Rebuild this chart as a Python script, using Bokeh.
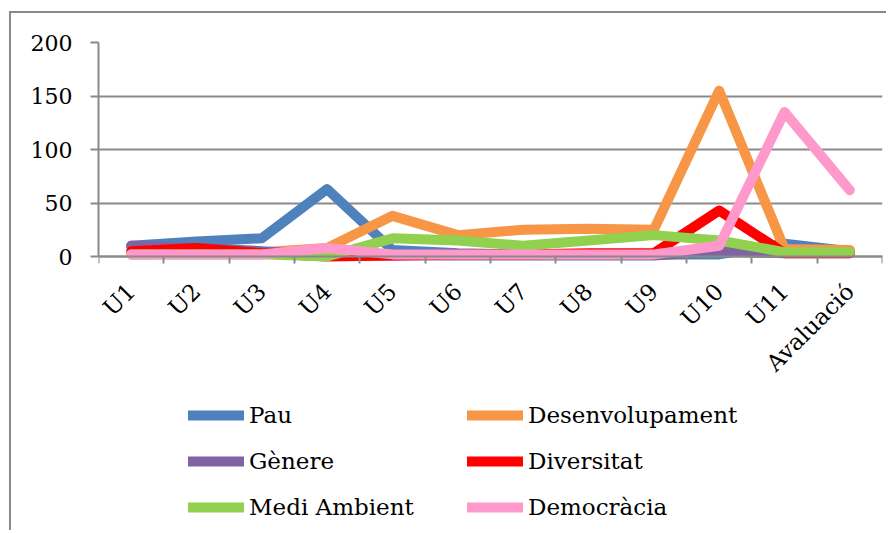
import math
from bokeh.plotting import figure
from bokeh.models import Range1d, FixedTicker, Legend, LegendItem
from bokeh.embed import file_html
from bokeh.resources import INLINE

categories = ["U1", "U2", "U3", "U4", "U5", "U6", "U7", "U8", "U9", "U10", "U11", "Avaluació"]
series_names = ["Pau", "Desenvolupament", "Gènere", "Diversitat", "Medi Ambient", "Democràcia"]
pau = [10, 14, 17, 63, 6, 3, 2, 2, 2, 2, 12, 5]
desenvolupament = [2, 3, 4, 8, 38, 20, 25, 26, 25, 155, 7, 6]
genere = [10, 8, 5, 1, 1, 1, 1, 1, 1, 5, 3, 3]
diversitat = [5, 8, 3, 0, 1, 2, 2, 3, 3, 43, 3, 3]
medi_ambient = [2, 2, 2, 0, 17, 15, 10, 15, 20, 15, 4, 4]
democracia = [2, 2, 2, 8, 2, 2, 2, 2, 2, 10, 135, 62]
y_ticks = [0, 50, 100, 150, 200]
colors = ["#4F81BD", "#F79646", "#8064A2", "#FF0000", "#92D050", "#FF99CC"]

FONT = "DejaVu Serif"
GREY = "#8a8a8a"

x = [i + 0.5 for i in range(len(categories))]

# frame extends below the value axis so the legend can sit inside it
p = figure(width=877, height=519, output_backend="svg", toolbar_location=None,
           x_range=Range1d(0, len(categories)), y_range=Range1d(-252.3, 200),
           min_border_left=87, min_border_right=6, min_border_top=29, min_border_bottom=6)
p.styles = {"border-left": f"2px solid {GREY}", "border-top": f"2px solid {GREY}",
            "margin-left": "9px", "margin-top": "11px"}
p.outline_line_color = None
p.background_fill_color = "white"

xt = FixedTicker(ticks=x, minor_ticks=list(range(len(categories) + 1)))
p.xaxis.ticker = xt
p.xaxis.fixed_location = 0
p.xaxis.major_label_overrides = {v: c for v, c in zip(x, categories)}
p.xaxis.major_tick_out = 0
p.xaxis.major_tick_in = 0
p.xaxis.minor_tick_out = 7
p.xaxis.minor_tick_in = 0
p.xaxis.minor_tick_line_color = GREY
p.xaxis.minor_tick_line_width = 2
p.xaxis.major_label_orientation = math.pi / 4
p.xaxis.major_label_standoff = 24
p.xaxis.major_label_text_font = FONT
p.xaxis.major_label_text_font_size = "23px"
p.xaxis.major_label_text_color = "black"

p.yaxis.ticker = FixedTicker(ticks=y_ticks, minor_ticks=[])
p.yaxis.bounds = (0, 200)
p.yaxis.major_tick_out = 8
p.yaxis.major_tick_in = 0
p.yaxis.major_tick_line_color = GREY
p.yaxis.major_tick_line_width = 2
p.yaxis.major_label_standoff = 18
p.yaxis.major_label_text_font = FONT
p.yaxis.major_label_text_font_size = "22px"
p.yaxis.major_label_text_color = "black"

for ax in (p.xaxis, p.yaxis):
    ax.axis_line_color = GREY
    ax.axis_line_width = 2

p.xgrid.grid_line_color = None
p.ygrid.ticker = FixedTicker(ticks=y_ticks)
p.ygrid.grid_line_color = GREY
p.ygrid.grid_line_width = 2

data = [pau, desenvolupament, genere, diversitat, medi_ambient, democracia]
renderers = []
for name, vals, col in zip(series_names, data, colors):
    r = p.line(x, vals, line_color=col, line_width=10, line_join="round", line_cap="round")
    renderers.append(r)

items = [LegendItem(label=n, renderers=[r]) for n, r in zip(series_names, renderers)]
legend = Legend(items=items, location=(90, 4), ncols=2, orientation="horizontal",
                glyph_width=56, glyph_height=30, label_height=30, label_width=202,
                label_standoff=5, spacing=16, padding=0, margin=0,
                border_line_color=None, background_fill_alpha=0,
                label_text_font=FONT, label_text_font_size="23px",
                label_text_baseline="middle", label_text_color="black")
p.add_layout(legend, "center")

open("out.html", "w").write(file_html(p, INLINE))
